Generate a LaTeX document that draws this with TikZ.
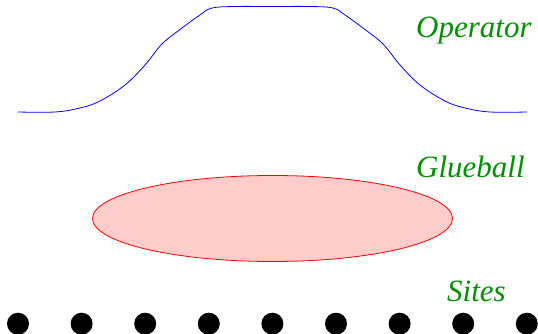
\documentclass[tikz,border=0pt]{standalone}
\usepackage{fontspec}
\setmainfont{Liberation Serif}
\definecolor{lblgreen}{RGB}{0,145,0}
\definecolor{glfill}{RGB}{255,204,204}
\tikzset{
  lbl/.style={text=lblgreen, font=\fontsize{31}{36}\selectfont\itshape, inner sep=0pt, anchor=base west},
  site/.style={circle, fill=black, minimum size=22pt, inner sep=0pt},
  opcurve/.style={blue, line width=0.8pt},
  glue/.style={draw=red, fill=glfill, line width=0.8pt, ellipse, minimum width=360pt, minimum height=86pt, inner sep=0pt}
}
\usetikzlibrary{shapes.geometric}
\begin{document}
\begin{tikzpicture}[x=1pt,y=-1pt]
\useasboundingbox (0,0) rectangle (538,334);
\draw[opcurve] plot[smooth, tension=0.6] coordinates {
 (18,112) (55,112) (80,108) (100,101) (125,85) (145,65) (162,44) (182,28) (200,15) (212,8) (235,6.5) (272,6.5)
 (310,6.5) (333,8) (345,15) (363,28) (383,44) (400,65) (420,85) (445,101) (465,108) (490,112) (527,112)};
\node[glue] (glueball) at (272.5,218.5) {};
\node[lbl] (oplabel) at (416,38) {Operator};
\node[lbl] (gllabel) at (416,177) {Glueball};
\node[lbl] (stlabel) at (447,301) {Sites};
\foreach \i in {0,...,8} {
  \node[site] (s\i) at ({18+63.6*\i},323.7) {};
}
\end{tikzpicture}
\end{document}
